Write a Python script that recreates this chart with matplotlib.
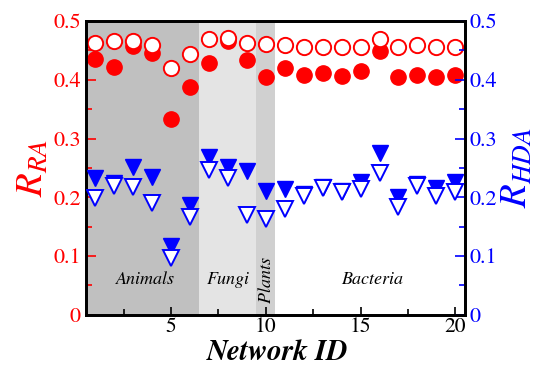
import matplotlib
matplotlib.use("Agg")
import matplotlib.pyplot as plt
from matplotlib.ticker import MultipleLocator

plt.rcParams['font.family'] = 'STIXGeneral'
plt.rcParams['mathtext.fontset'] = 'stix'

net_id = list(range(1, 21))
ra_filled = [0.435, 0.422, 0.457, 0.446, 0.333, 0.387, 0.428, 0.465, 0.433, 0.404,
             0.420, 0.408, 0.411, 0.406, 0.415, 0.449, 0.404, 0.408, 0.404, 0.408]
ra_open = [0.462, 0.465, 0.466, 0.459, 0.420, 0.444, 0.469, 0.471, 0.463, 0.460,
           0.459, 0.456, 0.456, 0.456, 0.456, 0.469, 0.456, 0.459, 0.456, 0.456]
hda_filled = [0.233, 0.224, 0.252, 0.235, 0.117, 0.187, 0.269, 0.252, 0.245, 0.211,
              0.214, 0.205, 0.218, 0.210, 0.226, 0.276, 0.201, 0.222, 0.216, 0.226]
hda_open = [0.199, 0.219, 0.218, 0.190, 0.097, 0.167, 0.247, 0.233, 0.170, 0.163,
            0.180, 0.202, 0.216, 0.209, 0.214, 0.242, 0.184, 0.219, 0.202, 0.209]

# (start, end, colour, label, label x, rotation)
groups = [(0.5, 6.5, '#c0c0c0', 'Animals', 3.65, 0),
          (6.5, 9.5, '#e4e4e4', 'Fungi', 8.0, 0),
          (9.5, 10.5, '#d0d0d0', 'Plants', 10.05, 90),
          (10.5, 20.5, 'white', 'Bacteria', 15.6, 0)]

fig = plt.figure(figsize=(5.43, 3.67), dpi=100)
ax = fig.add_axes([0.158, 0.142, 0.698, 0.801])
ax2 = ax.twinx()

for x0, x1, c, name, tx, rot in groups:
    ax.axvspan(x0, x1, color=c, lw=0, zorder=0)
    ax.text(tx, 0.06, name, style='italic', fontsize=13, rotation=rot,
            ha='center', va='center', zorder=1)

ax.plot(net_id, ra_filled, 'o', ms=11, color='red', mec='red', zorder=3)
ax.plot(net_id, ra_open, 'o', ms=11, mfc='white', mec='red', mew=1.4, zorder=4)
ax2.plot(net_id, hda_filled, 'v', ms=11, color='blue', mec='blue', zorder=3)
ax2.plot(net_id, hda_open, 'v', ms=11, mfc='white', mec='blue', mew=1.4, zorder=4)

ax.set_xlim(0.5, 20.5)
ax.set_ylim(0, 0.5)
ax2.set_ylim(0, 0.5)

ax.xaxis.set_major_locator(MultipleLocator(5))
ax.xaxis.set_minor_locator(MultipleLocator(2.5))
for a in (ax, ax2):
    a.yaxis.set_major_locator(MultipleLocator(0.1))
    a.yaxis.set_minor_locator(MultipleLocator(0.05))

ax.tick_params(axis='x', which='both', direction='in', labelsize=15.5, top=False, pad=2)
ax.tick_params(axis='x', which='major', length=6, width=1.2)
ax.tick_params(axis='x', which='minor', length=4, width=1.2)
ax.tick_params(axis='y', which='both', direction='in', colors='red', labelsize=16)
ax.tick_params(axis='y', which='major', length=7, width=1.2)
ax.tick_params(axis='y', which='minor', length=4, width=1.2)
ax2.tick_params(axis='y', which='both', direction='in', colors='blue', labelsize=16)
ax2.tick_params(axis='y', which='major', length=7, width=1.2)
ax2.tick_params(axis='y', which='minor', length=4, width=1.2)

fmt = lambda v, p: '0' if v == 0 else f'{v:.1f}'
ax.yaxis.set_major_formatter(fmt)
ax2.yaxis.set_major_formatter(fmt)

for a in (ax, ax2):
    for s in a.spines.values():
        s.set_linewidth(2)
        s.set_color('black')
ax2.patch.set_visible(False)

fig.text(0.511, 0.018, 'Network ID', fontsize=21, style='italic', weight='bold',
         ha='center', va='baseline')
ax.set_ylabel(r'$R_{RA}$', fontsize=28, color='red', labelpad=2)
ax2.set_ylabel(r'$R_{HDA}$', fontsize=28, color='blue', labelpad=2)

fig.savefig('out.png', dpi=100)
